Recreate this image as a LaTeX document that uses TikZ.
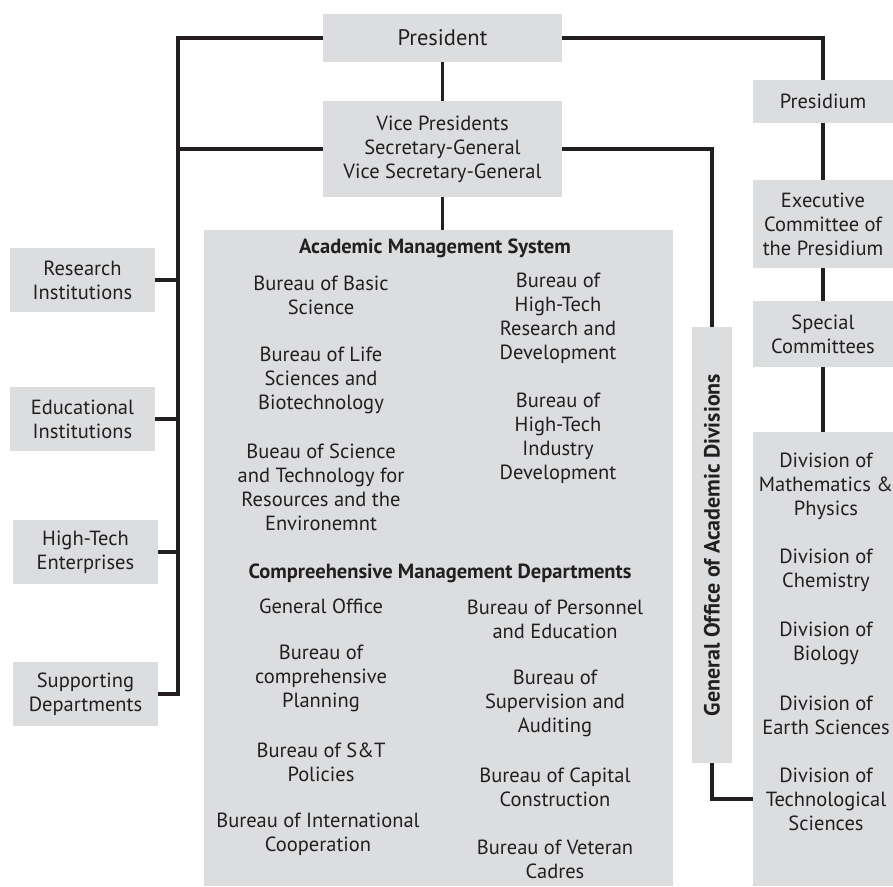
\documentclass[tikz,border=0pt]{standalone}
\usepackage{fontspec}
\setmainfont{PT Sans}
\definecolor{boxgray}{RGB}{220,221,223}
\definecolor{ink}{RGB}{35,31,32}
\tikzset{
    box/.style={fill=boxgray, inner sep=0pt, align=center, text=ink},
    item/.style={align=center, text=ink, inner sep=0pt},
    head/.style={item, font=\bfseries\fontsize{20.5}{24}\selectfont},
    link/.style={draw=ink, line width=3.5pt},
}

\begin{document}
\begin{tikzpicture}[x=1pt, y=-1pt, every node/.style={font=\fontsize{20.5}{24}\selectfont}]
    \useasboundingbox (0,0) rectangle (893,886);
    % top of the tree
    \node[box, minimum width=239, minimum height=48, font=\fontsize{22.5}{26}\selectfont] (president) at (442.5,38) {President};
    \node[box, minimum width=239, minimum height=96] (vp) at (442.5,149) {Vice Presidents\\Secretary-General\\Vice Secretary-General};
    % left column
    \node[box, minimum width=145, minimum height=64] (research) at (82.5,280) {Research\\Institutions};
    \node[box, minimum width=145, minimum height=64] (educational) at (82.5,419) {Educational\\Institutions};
    \node[box, minimum width=145, minimum height=64] (hightech) at (85.5,552) {High-Tech\\Enterprises};
    \node[box, minimum width=145, minimum height=64] (supporting) at (85.5,694) {Supporting\\Departments};
    % management block
    \node[box, minimum width=469, minimum height=656] (ams) at (438.5,558) {};
    \node[head] (amshead) at (435,248) {Academic Management System};
    \node[item] (basic) at (321,295) {Bureau of Basic\\Science};
    \node[item] (life) at (321,380) {Bureau of Life\\Sciences and\\Biotechnology};
    \node[item] (resenv) at (321,487) {Bueau of Science\\and Technology for\\Resources and the\\Environemnt};
    \node[item] (hrd) at (558,318) {Bureau of\\High-Tech\\Research and\\Development};
    \node[item] (hid) at (558,438) {Bureau of\\High-Tech\\Industry\\Development};
    \node[head] (comphead) at (440,573) {Compreehensive Management Departments};
    \node[item] (office) at (321,606) {General Office};
    \node[item] (planning) at (321,678) {Bureau of\\comprehensive\\Planning};
    \node[item] (policies) at (321,762) {Bureau of S\&T\\Policies};
    \node[item] (intl) at (318,834) {Bureau of International\\Cooperation};
    \node[item] (personnel) at (555,619) {Bureau of Personnel\\and Education};
    \node[item] (audit) at (555,703) {Bureau of\\Supervision and\\Auditing};
    \node[item] (capital) at (555,787) {Bureau of Capital\\Construction};
    \node[item] (veteran) at (555,859) {Bureau of Veteran\\Cadres};
    % general office
    \node[box, minimum width=40, minimum height=436] (genoff) at (712,545) {\rotatebox{90}{\bfseries\fontsize{22}{24}\selectfont General Office of Academic Divisions}};
    % right column
    \node[box, minimum width=140, minimum height=43] (presidium) at (823,101.5) {Presidium};
    \node[box, minimum width=140, minimum height=88] (executive) at (823,224) {Executive\\Committee of\\the Presidium};
    \node[box, minimum width=140, minimum height=66] (special) at (823,334) {Special\\Committees};
    \node[box, minimum width=140, minimum height=454] (divisions) at (823,659) {};
    \node[item] (math) at (826,486) {Division of\\Mathematics \&\\Physics};
    \node[item] (chem) at (826,570) {Division of\\Chemistry};
    \node[item] (bio) at (826,643) {Division of\\Biology};
    \node[item] (earth) at (826,715) {Division of\\Earth Sciences};
    \node[item] (divtech) at (826,799) {Division of\\Technological\\Sciences};

    % connectors
    \coordinate (trunk) at (178,694);
    \draw[link] (president.west) -| (trunk) -- (supporting.east);
    \draw[link] (vp.west) -- (vp.west -| trunk);
    \foreach \n in {research,educational,hightech}{
        \draw[link] (\n.east) -- (\n.east -| trunk);
    }
    \draw[link] (president.south) -- (vp.north);
    \draw[link] (vp.south) -- (vp.south |- ams.north);
    \draw[link] (president.east) -| (presidium.north);
    \draw[link] (presidium.south) -- (executive.north);
    \draw[link] (executive.south) -- (special.north);
    \draw[link] (special.south) -- (divisions.north);
    \draw[link] (vp.east) -| (genoff.north);
    \draw[link] (genoff.south) |- (divisions.west |- divtech);
\end{tikzpicture}
\end{document}
